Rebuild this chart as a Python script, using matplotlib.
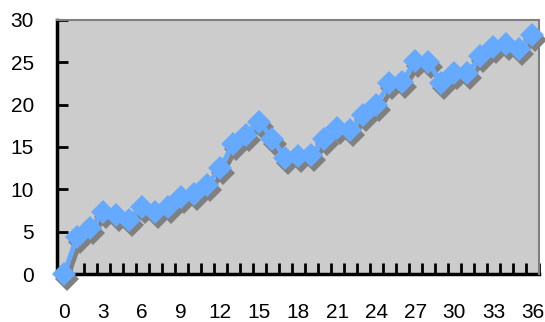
import numpy as np
import matplotlib
matplotlib.use("Agg")
import matplotlib.pyplot as plt
from matplotlib.transforms import offset_copy

plt.rcParams["font.family"] = ["Liberation Sans", "DejaVu Sans"]

# 系列数据（类别 0..36）
periods = list(range(37))
values = [0.0, 4.4, 5.4, 7.3, 7.0, 6.4, 7.9, 7.3, 7.9, 9.1,
          9.5, 10.5, 12.5, 15.4, 16.4, 18.0, 16.0, 13.7, 13.9, 14.1,
          16.0, 17.2, 17.0, 18.8, 20.0, 22.5, 22.7, 25.2, 25.0, 22.5,
          23.7, 23.7, 25.7, 26.8, 27.2, 26.6, 28.2]
x_labels = [str(v) for v in range(0, 37, 3)]
y_ticks = [0, 5, 10, 15, 20, 25, 30]

LINE_COLOR = "#66AAFF"
SHADOW_COLOR = "#808080"
BG_COLOR = "#CCCCCC"

fig = plt.figure(figsize=(5.45, 3.22), dpi=100)
ax = fig.add_axes([0.1055, 0.149, 0.8835, 0.789])
ax.set_facecolor(BG_COLOR)

# 阴影：同一数据，向右下平移
shadow_tr = offset_copy(ax.transData, fig=fig, x=3, y=-5, units="dots")
ax.plot(periods, values, color=SHADOW_COLOR, lw=3.5, marker="D", ms=12,
        markeredgewidth=0, transform=shadow_tr, clip_on=False, zorder=2)
ax.plot(periods, values, color=LINE_COLOR, lw=3.5, marker="D", ms=12,
        markeredgewidth=0, clip_on=False, zorder=3)

ax.set_xlim(-0.5, 36.5)
ax.set_ylim(0, 30)

ax.set_xticks(range(0, 37, 3))
ax.set_xticklabels(x_labels)
ax.set_xticks(np.arange(-0.5, 37, 1), minor=True)
ax.tick_params(axis="x", which="major", length=0, pad=21, labelsize=15)
ax.tick_params(axis="x", which="minor", direction="in", length=8, width=2, color="black")

ax.set_yticks(y_ticks)
ax.tick_params(axis="y", direction="in", length=8, width=2, pad=17, labelsize=15)

for side in ("left", "bottom"):
    ax.spines[side].set_color("black")
    ax.spines[side].set_linewidth(2.5)
for side in ("top", "right"):
    ax.spines[side].set_color(SHADOW_COLOR)
    ax.spines[side].set_linewidth(1.5)
ax.spines["left"].set_zorder(1)
ax.spines["bottom"].set_zorder(1)

fig.savefig("out.png", dpi=100)
